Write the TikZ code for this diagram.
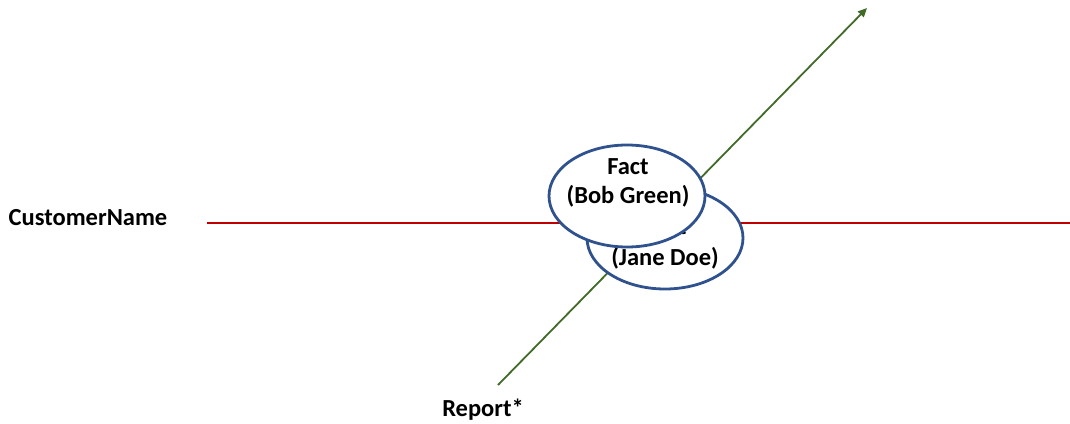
\documentclass[tikz,border=0pt]{standalone}
\usepackage{fontspec}
\setmainfont{Carlito}
\usetikzlibrary{shapes.geometric,arrows.meta}
\definecolor{axisred}{RGB}{192,0,0}
\definecolor{axisgreen}{RGB}{66,106,40}
\definecolor{factblue}{RGB}{47,82,143}
\tikzset{
  lbl/.style={font=\bfseries\fontsize{24.5}{28}\selectfont, inner sep=0pt},
  factshape/.style={ellipse, draw=factblue, line width=2.8pt, fill=white,
    minimum width=156pt, minimum height=102pt, inner sep=0pt},
  axisline/.style={line width=1.8pt},
}
\begin{document}
\begin{tikzpicture}[x=1pt,y=-1pt]
  \useasboundingbox (0,0) rectangle (1070,423);

  % axes
  \coordinate (redL) at (207,223);
  \coordinate (redR) at (1070,223);
  \coordinate (grnS) at (498,385);
  \coordinate (grnE) at (867,8);
  \draw[axisline, axisred] (redL) -- (redR);
  \draw[axisline, axisgreen, -{Triangle[length=9pt,width=8pt]}] (grnS) -- (grnE);

  % axis labels
  \node[lbl] (custname) at (88,218) {CustomerName};
  \node[lbl] (report) at (483,410) {Report*};

  % back fact
  \node[factshape] (factJane) at (665,238) {};
  \node[lbl] (janeT1) at (666,227) {Fact};
  \node[lbl] (janeT2) at (665,258) {(Jane Doe)};

  % front fact
  \node[factshape] (factBob) at (627,196) {};
  \node[lbl] (bobT1) at (628,167) {Fact};
  \node[lbl] (bobT2) at (628,196) {(Bob Green)};
\end{tikzpicture}
\end{document}
